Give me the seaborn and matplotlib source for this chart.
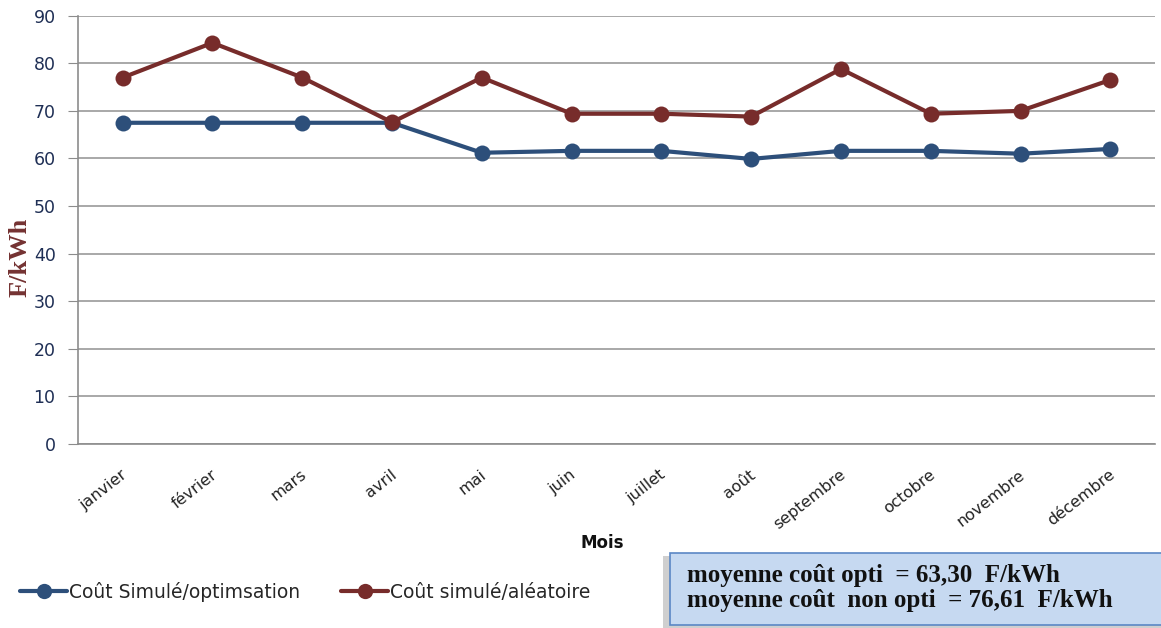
import pandas as pd
import seaborn as sns
import matplotlib.pyplot as plt
import matplotlib.transforms as mtransforms
from matplotlib.patches import Rectangle
from matplotlib.lines import Line2D

mois = ['janvier', 'février', 'mars', 'avril', 'mai', 'juin', 'juillet',
        'août', 'septembre', 'octobre', 'novembre', 'décembre']
cout_opti = [67.5, 67.5, 67.5, 67.5, 61.2, 61.6, 61.6, 59.9, 61.6, 61.6, 61.0, 62.0]
cout_alea = [77.0, 84.3, 77.0, 67.6, 77.0, 69.4, 69.4, 68.8, 78.8, 69.4, 70.0, 76.5]
noms = ['Coût Simulé/optimsation', 'Coût simulé/aléatoire']
couleurs = ['#2d4f7a', '#772c2b']
y_ticks = list(range(0, 100, 10))

df = pd.DataFrame({'Mois': mois * 2,
                   'valeur': cout_opti + cout_alea,
                   'serie': [noms[0]] * 12 + [noms[1]] * 12})

sns.set_style('white')
plt.rcParams['font.family'] = ['DejaVu Sans']

fig = plt.figure(figsize=(11.61, 6.28), dpi=100)
ax = fig.add_axes([0.067, 0.293, 0.928, 0.682])

for nom, c in zip(noms, couleurs):
    sns.lineplot(data=df[df['serie'] == nom], x='Mois', y='valeur', color=c,
                 marker='o', markersize=11.5, markeredgewidth=0, linewidth=3,
                 sort=False, ax=ax, legend=False)

ax.set_xlim(-0.5, 11.5)
ax.set_ylim(0, 90)
ax.set_yticks(y_ticks)
ax.yaxis.grid(True, color='#9a9a9a', linewidth=1.2)
ax.set_axisbelow(True)
for s in ['top', 'right']:
    ax.spines[s].set_visible(False)
for s in ['left', 'bottom']:
    ax.spines[s].set_color('#8c8c8c')
    ax.spines[s].set_linewidth(1.2)
ax.tick_params(axis='y', left=True, length=7, color='#8c8c8c', labelsize=12.5,
               labelcolor='#1f2f55', pad=9)
ax.tick_params(axis='x', bottom=False, labelsize=11.5, labelcolor='#222222', pad=13)
decal = mtransforms.ScaledTranslation(-2 / 100, 0, fig.dpi_scale_trans)
for lab in ax.get_xticklabels():
    lab.set_rotation(38)
    lab.set_ha('right')
    lab.set_rotation_mode('anchor')
    lab.set_transform(lab.get_transform() + decal)

ax.set_xlabel('Mois', fontsize=12, fontweight='bold', color='#111111')
ax.xaxis.set_label_coords(0.487, -0.21)
ax.set_ylabel('F/kWh', fontsize=19, fontweight='bold', color='#743232',
              family='Liberation Serif')
ax.yaxis.set_label_coords(-0.043, 0.435)

handles = [Line2D([0], [0], color=c, linewidth=3, marker='o', markersize=11,
                  markeredgewidth=0) for c in couleurs]
fig.legend(handles, noms, loc='lower left', bbox_to_anchor=(0.003, 0.015),
           ncol=2, frameon=False, fontsize=13.5, handlelength=2.5,
           handletextpad=0.1, columnspacing=2.2)

# encadre des moyennes
shadow = Rectangle((0.571, -0.002), 0.45, 0.117, transform=fig.transFigure,
                   facecolor='#b0b0b0', edgecolor='none', alpha=0.6, zorder=1)
box = Rectangle((0.577, 0.005), 0.45, 0.115, transform=fig.transFigure,
                facecolor='#c6d9f1', edgecolor='#5b87c5', linewidth=1.2, zorder=2)
fig.patches.extend([shadow, box])
fig.text(0.592, 0.073, 'moyenne coût opti  = 63,30  F/kWh', fontsize=18,
         fontweight='bold', family='Liberation Serif', color='#111111', zorder=3)
fig.text(0.592, 0.033, 'moyenne coût  non opti  = 76,61  F/kWh', fontsize=18,
         fontweight='bold', family='Liberation Serif', color='#111111', zorder=3)

plt.savefig('out.png', dpi=100)
